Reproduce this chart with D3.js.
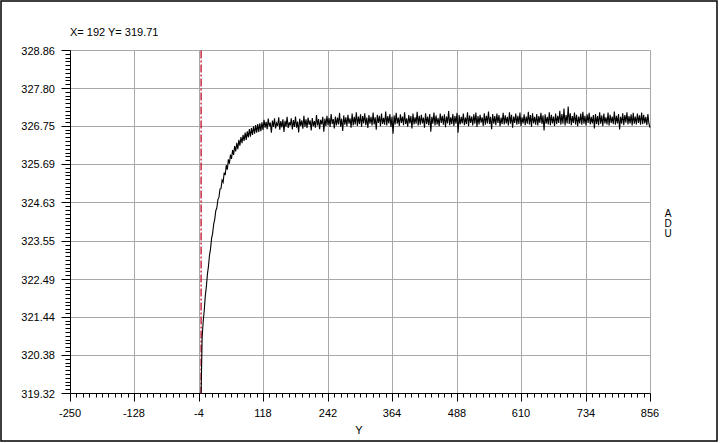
<!DOCTYPE html>
<html><head><meta charset="utf-8">
<script src="https://cdn.jsdelivr.net/npm/d3@7"></script>
<style>html,body{margin:0;padding:0;background:#fff;}svg{display:block;font-family:"Liberation Sans",Arial,sans-serif;}</style>
</head><body>
<script>
// ---- data ----
const xTickLabels = [-250, -128, -4, 118, 242, 364, 488, 610, 734, 856];
const yTickLabels = ["319.32","320.38","321.44","322.49","323.55","324.63","325.69","326.75","327.80","328.86"];
const cursorText = "X= 192 Y= 319.71";
const xAxisTitle = "Y";
const yAxisTitle = "ADU";
const markerX = 0;           // trigger marker (red dash-dot line)
const sampleStart = 0;       // x of first sample
const sampleStep = 2;        // x spacing between samples
const riseValues = [
 319.32,320.88,321.31,321.62,322.02,322.27,322.62,322.84,323.15,323.33,
 323.62,323.76,324.02,324.15,324.39,324.47,324.70,324.76,324.99,325.01,
 325.24,325.18,325.45,325.38,325.66,325.53,325.82,325.70,325.95,325.83,
 326.08,325.94,326.19,326.04,326.28,326.10,326.36,326.20,326.44,326.27,
 326.50,326.33,326.56,326.36,326.60,326.43,326.66,326.45,326.69,326.50,
 326.74,326.53,326.77,326.56,326.80,326.58,326.82,326.60,326.85,326.64
];
const plateauValues = [
 326.92,326.70,326.86,326.66,326.95,326.74,326.84,326.56,326.90,326.72,
 326.96,326.68,326.83,326.75,326.99,326.64,326.88,326.71,326.93,326.58,
 326.89,326.73,327.00,326.69,326.85,326.76,326.96,326.65,326.91,326.72,
 327.01,326.70,326.87,326.57,326.95,326.75,326.90,326.67,327.03,326.73,
 326.93,326.69,326.98,326.78,326.90,326.62,326.97,326.74,326.88,326.70,
 327.05,326.76,326.94,326.66,326.92,326.79,327.00,326.59,326.95,326.75,
 327.03,326.77,326.97,326.72,327.08,326.80,326.94,326.68,327.01,326.76,
 326.98,326.79,327.11,326.73,326.95,326.61,327.04,326.78,326.99,326.74,
 327.06,326.81,326.96,326.70,327.09,326.76,327.00,326.79,327.13,326.75,
 327.01,326.80,327.07,326.73,327.02,326.82,327.10,326.77,326.98,326.69,
 327.05,326.81,327.00,326.76,327.12,326.79,326.99,326.64,327.06,326.83,
 327.03,326.74,327.09,326.80,326.97,326.78,327.15,326.76,327.02,326.82,
 327.08,326.72,327.00,326.53,327.04,326.79,327.11,326.81,326.98,326.75,
 327.07,326.83,327.01,326.77,327.13,326.80,326.96,326.73,327.05,326.82,
 327.02,326.68,327.09,326.79,326.99,326.81,327.14,326.76,327.03,326.78,
 327.06,326.82,326.98,326.70,327.10,326.80,327.01,326.77,327.08,326.59,
 327.00,326.81,327.12,326.76,327.04,326.79,326.97,326.74,327.09,326.83,
 327.03,326.78,327.07,326.71,327.01,326.82,327.16,326.77,326.99,326.80,
 327.08,326.75,327.02,326.81,327.11,326.56,327.05,326.79,327.00,326.82,
 327.09,326.77,326.98,326.80,327.13,326.74,327.04,326.83,327.01,326.76,
 327.07,326.81,327.12,326.72,327.02,326.79,327.06,326.84,326.99,326.75,
 327.10,326.78,327.03,326.82,327.15,326.80,327.00,326.66,327.08,326.81,
 327.02,326.77,327.09,326.83,327.05,326.74,326.98,326.80,327.11,326.79,
 327.04,326.82,327.00,326.76,327.13,326.81,327.06,326.70,327.01,326.83,
 327.09,326.78,327.03,326.80,327.12,326.75,326.99,326.82,327.07,326.77,
 327.01,326.81,327.14,326.79,327.05,326.73,327.10,326.82,327.00,326.78,
 327.08,326.76,327.02,326.83,327.11,326.80,327.04,326.62,327.07,326.81,
 327.00,326.79,327.13,326.77,327.06,326.82,327.01,326.75,327.09,326.80,
 327.03,326.83,327.17,326.78,327.08,326.81,327.23,326.76,327.05,326.82,
 327.29,326.80,327.10,326.77,327.02,326.83,327.12,326.79,327.06,326.74,
 327.01,326.82,327.09,326.78,327.14,326.81,327.03,326.76,327.07,326.83,
 327.11,326.79,327.00,326.82,327.05,326.68,327.08,326.80,327.02,326.77,
 327.13,326.81,327.04,326.75,327.09,326.82,326.99,326.79,327.12,326.76,
 327.06,326.83,327.01,326.80,327.15,326.78,327.03,326.82,327.08,326.65,
 327.00,326.81,327.10,326.77,327.05,326.84,327.13,326.79,327.02,326.82,
 327.07,326.76,327.11,326.81,327.01,326.79,327.09,326.83,327.04,326.78,
 327.12,326.80,327.06,326.82,327.00,326.77,327.08,326.81,326.70
];

// ---- chart ----
const W = 720, H = 443;
const svg = d3.select("body").append("svg").attr("width", W).attr("height", H);
svg.append("rect").attr("x",0).attr("y",0).attr("width",W).attr("height",H).attr("fill","#fff");
svg.append("rect").attr("x",1).attr("y",1).attr("width",716).attr("height",440)
  .attr("fill","none").attr("stroke","#000").attr("stroke-width",1.5);

const pLeft = 70, pRight = 650, pTop = 50, pBottom = 393;
const xDomain = [xTickLabels[0], xTickLabels[xTickLabels.length-1]];
const yVals = yTickLabels.map(Number);
const x = d3.scaleLinear().domain(xDomain).range([pLeft, pRight]);
const y = d3.scaleLinear().domain([yVals[0], yVals[yVals.length-1]]).range([pBottom, pTop]);
const crisp = v => Math.round(v) + 0.5;

// grid
const grid = svg.append("g").attr("stroke","#a8a8a8").attr("stroke-width",1);
xTickLabels.slice(1).forEach(v => {
  const px = crisp(x(v));
  grid.append("line").attr("x1",px).attr("x2",px).attr("y1",pTop+0.5).attr("y2",pBottom+0.5);
});
yVals.slice(1).forEach(v => {
  const py = crisp(y(v));
  grid.append("line").attr("x1",pLeft+0.5).attr("x2",pRight+0.5).attr("y1",py).attr("y2",py);
});

// minor tick values
function minors(vals){
  const out=[];
  for(let i=0;i<vals.length-1;i++){
    const a=vals[i], b=vals[i+1];
    for(let k=1;k<10;k++) out.push(a+(b-a)*k/10);
  }
  return out;
}

const ax = svg.append("g").attr("stroke","#000").attr("stroke-width",1);
minors(xTickLabels).forEach(v=>{ const px=crisp(x(v)); ax.append("line").attr("x1",px).attr("x2",px).attr("y1",pBottom+0.5).attr("y2",pBottom+4.5); });
xTickLabels.forEach(v=>{ const px=crisp(x(v)); ax.append("line").attr("x1",px).attr("x2",px).attr("y1",pBottom+0.5).attr("y2",pBottom+8.5); });
minors(yVals).forEach(v=>{ const py=crisp(y(v)); ax.append("line").attr("x1",pLeft+0.5).attr("x2",pLeft-4.5).attr("y1",py).attr("y2",py); });
yVals.forEach(v=>{ const py=crisp(y(v)); ax.append("line").attr("x1",pLeft+0.5).attr("x2",pLeft-8.5).attr("y1",py).attr("y2",py); });
ax.append("line").attr("x1",pLeft+0.5).attr("x2",pRight+0.5).attr("y1",pBottom+0.5).attr("y2",pBottom+0.5);
ax.append("line").attr("x1",pLeft+0.5).attr("x2",pLeft+0.5).attr("y1",pTop+0.5).attr("y2",pBottom+0.5);

// tick labels
svg.append("g").selectAll("text").data(xTickLabels).join("text")
  .attr("x",d=>x(d)).attr("y",pBottom+24).attr("text-anchor","middle")
  .attr("font-size","11px").attr("fill","#000").text(d=>String(d));
svg.append("g").selectAll("text").data(yTickLabels).join("text")
  .attr("x",pLeft-15).attr("y",d=>y(+d)+4.5).attr("text-anchor","end")
  .attr("font-size","11px").attr("fill","#000").text(d=>d);

// clip
svg.append("clipPath").attr("id","plotclip").append("rect")
  .attr("x",pLeft).attr("y",pTop).attr("width",pRight-pLeft+1).attr("height",pBottom-pTop+1);

// red marker line
svg.append("line").attr("x1",x(markerX)).attr("x2",x(markerX)).attr("y1",pTop+0.5).attr("y2",pBottom+0.5)
  .attr("stroke","#c41e3a").attr("stroke-width",1.4).attr("stroke-dasharray","8,2,2,2");

// series
const values = riseValues.concat(plateauValues);
const series = values.map((v,i)=>({x: sampleStart + i*sampleStep, y: v}));
const line = d3.line().x(d=>x(d.x)).y(d=>y(d.y));
svg.append("path").datum(series).attr("clip-path","url(#plotclip)")
  .attr("d", line).attr("fill","none").attr("stroke","#000").attr("stroke-width",1.1);

// texts
svg.append("text").attr("x",70).attr("y",36).attr("font-size","11px").attr("fill","#000").text(cursorText);
svg.append("text").attr("x",359).attr("y",434).attr("text-anchor","middle").attr("font-size","11px").attr("fill","#000").text(xAxisTitle);
const adu = svg.append("text").attr("text-anchor","middle").attr("font-size","10px").attr("fill","#000");
yAxisTitle.split("").forEach((c,i)=>adu.append("tspan").attr("x",668).attr("y",217+i*10).text(c));
</script>
</body></html>
